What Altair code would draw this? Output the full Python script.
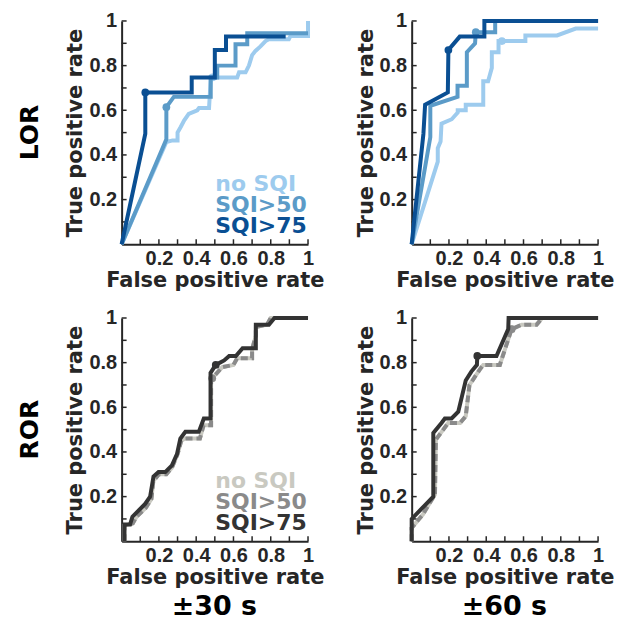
import altair as alt
import pandas as pd

# ---------------- data ----------------
# LOR, +-30 s
lor30_none_x = [0, 0.24, 0.273, 0.30, 0.30, 0.317, 0.335, 0.36, 0.406, 0.415, 0.469, 0.478, 0.487, 0.62, 0.63, 0.665, 0.683, 0.70, 0.718, 0.745, 0.772, 0.79, 0.897, 0.906, 1.0, 1.0]
lor30_none_y = [0, 0.458, 0.465, 0.465, 0.50, 0.525, 0.554, 0.584, 0.60, 0.61, 0.61, 0.74, 0.747, 0.747, 0.77, 0.77, 0.80, 0.847, 0.866, 0.886, 0.91, 0.918, 0.918, 0.933, 0.933, 1.0]
lor30_50_x = [0, 0.24, 0.24, 0.28, 0.478, 0.478, 0.513, 0.513, 0.611, 0.611, 0.674, 0.674, 1.0]
lor30_50_y = [0, 0.47, 0.614, 0.66, 0.66, 0.747, 0.747, 0.80, 0.80, 0.896, 0.896, 0.945, 0.945]
lor30_75_x = [0, 0.127, 0.127, 0.376, 0.376, 0.50, 0.50, 0.56, 0.56, 0.88]
lor30_75_y = [0, 0.495, 0.68, 0.68, 0.747, 0.747, 0.87, 0.87, 0.93, 0.93]
lor30_dots = [(0.487, 0.747), (0.24, 0.614), (0.127, 0.68)]

# LOR, +-60 s
lor60_none_x = [0, 0.14, 0.14, 0.155, 0.16, 0.215, 0.247, 0.247, 0.29, 0.29, 0.384, 0.384, 0.41, 0.43, 0.43, 0.466, 0.466, 0.484, 0.61, 0.61, 0.78, 0.88, 1.0]
lor60_none_y = [0, 0.37, 0.43, 0.46, 0.54, 0.56, 0.59, 0.60, 0.60, 0.625, 0.625, 0.73, 0.73, 0.79, 0.86, 0.86, 0.91, 0.91, 0.91, 0.935, 0.935, 0.966, 0.966]
lor60_50_x = [0, 0.10, 0.10, 0.246, 0.246, 0.296, 0.296, 0.34, 0.344, 0.448, 0.448, 1.0]
lor60_50_y = [0, 0.48, 0.62, 0.66, 0.71, 0.71, 0.86, 0.90, 0.95, 0.95, 1.0, 1.0]
lor60_75_x = [0, 0.063, 0.072, 0.194, 0.197, 0.258, 0.39, 0.39, 1.0]
lor60_75_y = [0, 0.495, 0.625, 0.68, 0.87, 0.93, 0.93, 1.0, 1.0]
lor60_dots = [(0.484, 0.91), (0.344, 0.95), (0.197, 0.87)]

# ROR, +-30 s
ror30_50_x = [0.015, 0.015, 0.06, 0.08, 0.13, 0.16, 0.17, 0.20, 0.24, 0.27, 0.30, 0.32, 0.34, 0.42, 0.44, 0.48, 0.48, 0.486, 0.54, 0.60, 0.62, 0.70, 0.70, 0.72, 0.72, 0.78, 0.80, 1.0]
ror30_50_y = [0, 0.07, 0.08, 0.11, 0.15, 0.19, 0.27, 0.30, 0.30, 0.33, 0.39, 0.45, 0.46, 0.46, 0.52, 0.52, 0.72, 0.73, 0.78, 0.79, 0.82, 0.82, 0.86, 0.92, 0.96, 0.97, 1.0, 1.0]
ror30_none_x = ror30_50_x
ror30_none_y = ror30_50_y
ror30_75_x = [0.015, 0.015, 0.045, 0.058, 0.126, 0.153, 0.171, 0.198, 0.234, 0.27, 0.297, 0.315, 0.342, 0.414, 0.441, 0.477, 0.477, 0.505, 0.55, 0.577, 0.613, 0.649, 0.72, 0.72, 0.79, 0.82, 1.0]
ror30_75_y = [0, 0.075, 0.075, 0.11, 0.167, 0.20, 0.29, 0.31, 0.31, 0.34, 0.39, 0.46, 0.49, 0.49, 0.55, 0.55, 0.754, 0.79, 0.81, 0.83, 0.83, 0.865, 0.865, 0.97, 0.97, 1.0, 1.0]
ror30_dots = [(0.486, 0.73), (0.486, 0.73), (0.505, 0.79)]

# ROR, +-60 s
ror60_50_x = [0, 0, 0.06, 0.125, 0.13, 0.196, 0.26, 0.29, 0.31, 0.366, 0.384, 0.473, 0.536, 0.59, 0.67, 0.70, 1.0]
ror60_50_y = [0, 0.06, 0.12, 0.21, 0.455, 0.53, 0.53, 0.56, 0.70, 0.77, 0.79, 0.79, 0.95, 0.97, 0.97, 1.0, 1.0]
ror60_none_x = ror60_50_x
ror60_none_y = ror60_50_y
ror60_75_x = [0, 0, 0.116, 0.116, 0.16, 0.178, 0.214, 0.25, 0.27, 0.29, 0.32, 0.35, 0.352, 0.455, 0.518, 0.52, 1.0]
ror60_75_y = [0, 0.10, 0.20, 0.485, 0.53, 0.55, 0.55, 0.58, 0.65, 0.72, 0.76, 0.79, 0.83, 0.83, 0.95, 1.0, 1.0]
ror60_dots = [(0.536, 0.95), (0.536, 0.95), (0.352, 0.83)]

series_names = ["no SQI", "SQI>50", "SQI>75"]
lor_colors = ["#9dcbee", "#5b9bc8", "#0a4f93"]
ror_colors = ["#c9c9c1", "#8a8a8a", "#333333"]

tick_values = [0.1, 0.2, 0.3, 0.4, 0.5, 0.6, 0.7, 0.8, 0.9, 1.0]
label_values = [0.2, 0.4, 0.6, 0.8, 1.0]

W, H = 187, 224
AXC = "#262626"

xscale = alt.Scale(domain=[0, 1], nice=False, zero=False)
yscale = alt.Scale(domain=[0, 1], nice=False, zero=False)
xaxis = alt.Axis(values=label_values, title="False positive rate", labelExpr="datum.value == 1 ? '1' : format(datum.value, '.1f')",
                 ticks=False, tickSize=0, labelPadding=4, titlePadding=1, grid=False)
yaxis = alt.Axis(values=label_values, title="True positive rate", labelExpr="datum.value == 1 ? '1' : format(datum.value, '.1f')",
                 ticks=False, tickSize=0, labelPadding=5, titlePadding=3, grid=False)


def curve_df(xs, ys):
    return pd.DataFrame({"x": xs, "y": ys, "i": list(range(len(xs)))})


def panel(curves, dots, colors, dashed, extra_texts):
    layers = []
    ticks = pd.DataFrame({"t": tick_values})
    layers.append(alt.Chart(ticks).mark_rule(color=AXC, strokeWidth=1.5).encode(
        x=alt.X("t:Q", scale=xscale, axis=xaxis), y=alt.value(H), y2=alt.value(H - 5)))
    layers.append(alt.Chart(ticks).mark_rule(color=AXC, strokeWidth=1.5).encode(
        y=alt.Y("t:Q", scale=yscale, axis=yaxis), x=alt.value(0), x2=alt.value(5)))
    for k, (xs, ys) in enumerate(curves):
        kw = {}
        if dashed and k == 1:
            kw["strokeDash"] = [7, 4]
        layers.append(alt.Chart(curve_df(xs, ys)).mark_line(color=colors[k], strokeWidth=4, **kw).encode(
            x=alt.X("x:Q", scale=xscale, axis=xaxis),
            y=alt.Y("y:Q", scale=yscale, axis=yaxis),
            order="i:Q"))
        dx, dy = dots[k]
        layers.append(alt.Chart(pd.DataFrame({"x": [dx], "y": [dy]})).mark_circle(
            color=colors[k], size=60, opacity=1).encode(
            x=alt.X("x:Q", scale=xscale, axis=xaxis),
            y=alt.Y("y:Q", scale=yscale, axis=yaxis)))
    for txt, px, py, size, angle, color, align in extra_texts:
        kw = {}
        if angle:
            kw["angle"] = angle
        layers.append(alt.Chart(pd.DataFrame({"t": [txt]})).mark_text(
            font="DejaVu Sans", fontWeight="bold", fontSize=size, color=color,
            align=align,
            baseline="alphabetic" if align == "left" else "middle", **kw).encode(
            text="t:N", x=alt.value(px), y=alt.value(py)))
    return alt.layer(*layers).properties(width=W, height=H)


def legend_texts(colors):
    return [(series_names[0], 94, 171, 22, 0, colors[0], "left"),
            (series_names[1], 94, 192, 22, 0, colors[1], "left"),
            (series_names[2], 94, 213, 22, 0, colors[2], "left")]


tl = panel([(lor30_none_x, lor30_none_y), (lor30_50_x, lor30_50_y), (lor30_75_x, lor30_75_y)],
           lor30_dots, lor_colors, False,
           legend_texts(lor_colors) + [("LOR", -92, 112, 25, 270, "#000000", "center")])
tr = panel([(lor60_none_x, lor60_none_y), (lor60_50_x, lor60_50_y), (lor60_75_x, lor60_75_y)],
           lor60_dots, lor_colors, False, [])
bl = panel([(ror30_none_x, ror30_none_y), (ror30_50_x, ror30_50_y), (ror30_75_x, ror30_75_y)],
           ror30_dots, ror_colors, True,
           legend_texts(ror_colors) + [("ROR", -92, 112, 25, 270, "#000000", "center"),
                                       ("±30 s", 93, 290, 27, 0, "#000000", "center")])
br = panel([(ror60_none_x, ror60_none_y), (ror60_50_x, ror60_50_y), (ror60_75_x, ror60_75_y)],
           ror60_dots, ror_colors, True,
           [("±60 s", 93, 290, 27, 0, "#000000", "center")])

chart = alt.concat(tl, tr, bl, br, columns=2, spacing={"row": 74, "column": 104}, bounds="flush").properties(
    padding={"left": 10, "top": 2, "right": 5, "bottom": 5}
).configure_view(stroke=None).configure_axis(
    domainColor=AXC, domainWidth=2,
    labelFont="Liberation Sans", labelFontSize=20, labelFontWeight="bold", labelColor=AXC,
    titleFont="DejaVu Sans", titleFontSize=21, titleFontWeight="bold", titleColor=AXC,
    labelOverlap=False, labelFlush=False
)

chart.save("out.html", embed_options={"renderer": "svg", "actions": False})
